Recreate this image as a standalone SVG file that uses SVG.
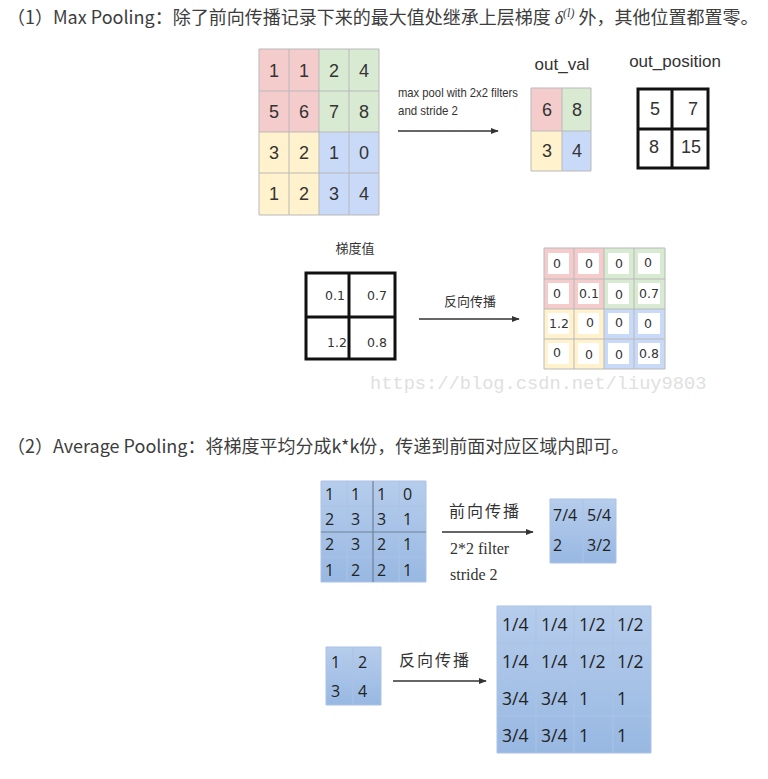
<svg xmlns="http://www.w3.org/2000/svg" width="768" height="779" viewBox="0 0 768 779">
<style>
.h{font-family:"Noto Sans CJK SC","Noto Sans",sans-serif;font-size:18px;fill:#3d3d3d}
.n1{font-family:"Liberation Sans",Arial,sans-serif;font-size:18px;fill:#333;text-anchor:middle}
.lbl{font-family:"Liberation Sans",Arial,sans-serif;font-size:17px;fill:#333;text-anchor:middle}
.sm{font-family:"Liberation Sans",Arial,sans-serif;font-size:13px;fill:#333}
.n2{font-family:"DejaVu Sans",Verdana,sans-serif;font-size:12.5px;fill:#333;text-anchor:middle}
.cj{font-family:"Noto Sans CJK SC",sans-serif;font-size:13px;fill:#333;text-anchor:middle}
.cj2{font-family:"Noto Sans CJK SC",serif;font-size:16px;fill:#333;letter-spacing:2px}
.av{font-family:"Open Sans","Liberation Sans",sans-serif;font-size:16px;fill:#222}
.av2{font-family:"Open Sans","Liberation Sans",sans-serif;font-size:17.5px;fill:#222}
.sf{font-family:"Liberation Serif","Times New Roman",serif;font-size:16px;fill:#333}
.g{stroke:#b9b9b9;stroke-width:1;fill:none}
.bl{stroke:#111;stroke-width:3;fill:none}
.ar{stroke:#333;stroke-width:1.3;fill:none;marker-end:url(#ah)}
.pk{fill:#f4cccc}.gr{fill:#d9ead3}.ye{fill:#fff2cc}.bu{fill:#c9daf8}
.wh{fill:#fff}
.bg{stroke:#aac3e6;stroke-width:1;fill:none}
</style>
<defs>
<marker id="ah" viewBox="0 0 10 10" refX="9" refY="5" markerWidth="6" markerHeight="6" orient="auto"><path d="M0,1 L10,5 L0,9 z" fill="#333"/></marker>
<linearGradient id="blu" x1="0" y1="0" x2="0" y2="1"><stop offset="0" stop-color="#b6cdec"/><stop offset="1" stop-color="#98b8e2"/></linearGradient>
</defs>
<rect width="768" height="779" fill="#fff"/>

<g id="heading1"><text class="h" x="7" y="24">（1）Max Pooling：除了前向传播记录下来的最大值处继承上层梯度 <tspan font-family="Liberation Serif,serif" font-style="italic">δ</tspan><tspan font-family="Liberation Serif,serif" font-style="italic" font-size="12" dy="-7">(l)</tspan><tspan dy="7"> 外，其他位置都置零。</tspan></text></g>

<g id="input-grid">
<rect class="pk" x="259" y="49" width="60" height="83"/>
<rect class="gr" x="319" y="49" width="60" height="83"/>
<rect class="ye" x="259" y="132" width="60" height="83"/>
<rect class="bu" x="319" y="132" width="60" height="83"/>
<path class="g" d="M259,49H379V215H259Z M289,49V215 M319,49V215 M349,49V215 M259,91H379 M259,132H379 M259,173H379"/>
<text class="n1" x="274" y="77">1</text><text class="n1" x="304" y="77">1</text><text class="n1" x="334" y="77">2</text><text class="n1" x="364" y="77">4</text>
<text class="n1" x="274" y="118">5</text><text class="n1" x="304" y="118">6</text><text class="n1" x="334" y="118">7</text><text class="n1" x="364" y="118">8</text>
<text class="n1" x="274" y="159">3</text><text class="n1" x="304" y="159">2</text><text class="n1" x="334" y="159">1</text><text class="n1" x="364" y="159">0</text>
<text class="n1" x="274" y="200">1</text><text class="n1" x="304" y="200">2</text><text class="n1" x="334" y="200">3</text><text class="n1" x="364" y="200">4</text>
</g>

<g id="out-val">
<text class="lbl" x="562" y="70">out_val</text>
<rect class="pk" x="531" y="88" width="31" height="43"/>
<rect class="gr" x="562" y="88" width="29" height="43"/>
<rect class="ye" x="531" y="131" width="31" height="40"/>
<rect class="bu" x="562" y="131" width="29" height="40"/>
<path class="g" d="M531,88H591V171H531Z M562,88V171 M531,131H591"/>
<text class="n1" x="547" y="116">6</text><text class="n1" x="577" y="116">8</text>
<text class="n1" x="547" y="157">3</text><text class="n1" x="577" y="157">4</text>
</g>

<g id="out-position">
<text class="lbl" x="675" y="67">out_position</text>
<path class="bl" d="M638,89H708V168H638Z M672,89V168 M638,129H708"/>
<text class="n1" x="655" y="115">5</text><text class="n1" x="693" y="115">7</text>
<text class="n1" x="654" y="153">8</text><text class="n1" x="691" y="153">15</text>
</g>

<g id="gradient">
<text class="cj" x="355" y="253">梯度值</text>
<path class="bl" d="M306,273H395V359H306Z M349,273V359 M306,317H395"/>
<text class="n2" x="335" y="300">0.1</text><text class="n2" x="377" y="300">0.7</text>
<text class="n2" x="337" y="347">1.2</text><text class="n2" x="377" y="347">0.8</text>
</g>

<g id="backprop-grid">
<rect class="pk" x="544" y="248" width="60" height="61"/>
<rect class="gr" x="604" y="248" width="61" height="61"/>
<rect class="ye" x="544" y="309" width="60" height="60"/>
<rect class="bu" x="604" y="309" width="61" height="60"/>
<g class="wh">
<rect x="548" y="253" width="21" height="21"/><rect x="578" y="253" width="21" height="21"/><rect x="608" y="253" width="21" height="21"/><rect x="638" y="253" width="22" height="21"/>
<rect x="548" y="283" width="21" height="21"/><rect x="578" y="283" width="21" height="21"/><rect x="608" y="283" width="21" height="21"/><rect x="638" y="283" width="22" height="21"/>
<rect x="548" y="313" width="21" height="21"/><rect x="578" y="313" width="21" height="21"/><rect x="608" y="313" width="21" height="21"/><rect x="638" y="313" width="22" height="21"/>
<rect x="548" y="343" width="21" height="21"/><rect x="578" y="343" width="21" height="21"/><rect x="608" y="343" width="21" height="21"/><rect x="638" y="343" width="22" height="21"/>
</g>
<path class="g" d="M544,248H665V369H544Z M574,248V369 M604,248V369 M634,248V369 M544,279H665 M544,309H665 M544,339H665"/>
<text class="n2" x="557" y="268">0</text><text class="n2" x="589" y="268">0</text><text class="n2" x="619" y="268">0</text><text class="n2" x="648" y="267">0</text>
<text class="n2" x="557" y="298">0</text><text class="n2" x="589" y="298">0.1</text><text class="n2" x="619" y="299">0</text><text class="n2" x="649" y="298">0.7</text>
<text class="n2" x="559" y="328">1.2</text><text class="n2" x="590" y="327">0</text><text class="n2" x="619" y="327">0</text><text class="n2" x="648" y="328">0</text>
<text class="n2" x="557" y="357">0</text><text class="n2" x="589" y="359">0</text><text class="n2" x="619" y="359">0</text><text class="n2" x="649" y="358">0.8</text>
</g>

<g id="watermark"><text x="370" y="389" font-family="Liberation Mono,monospace" font-size="18.7" fill="#e0e0e0">https://blog.csdn.net/liuy9803</text></g>

<g id="heading2"><text class="h" x="7" y="453">（2）Average Pooling：将梯度平均分成k*k份，传递到前面对应区域内即可。</text></g>

<g id="avg-input">
<rect x="321" y="481" width="105" height="101" fill="url(#blu)"/>
<path class="bg" d="M321,481H426V582H321Z M347,481V582 M399,481V582 M321,506H426 M321,557H426"/>
<path d="M373,481V582 M321,532H426" stroke="#6f8098" stroke-width="1.2"/>
<text class="av" x="325" y="500">1</text><text class="av" x="351" y="500">1</text><text class="av" x="377" y="500">1</text><text class="av" x="403" y="500">0</text>
<text class="av" x="325" y="525">2</text><text class="av" x="351" y="525">3</text><text class="av" x="377" y="525">3</text><text class="av" x="403" y="525">1</text>
<text class="av" x="325" y="550">2</text><text class="av" x="351" y="550">3</text><text class="av" x="377" y="550">2</text><text class="av" x="403" y="550">1</text>
<text class="av" x="325" y="576">1</text><text class="av" x="351" y="576">2</text><text class="av" x="377" y="576">2</text><text class="av" x="403" y="576">1</text>
</g>

<g id="avg-output">
<rect x="550" y="499" width="66" height="64" fill="url(#blu)"/>
<path class="bg" d="M550,499H616V563H550Z M583,499V563 M550,531H616"/>
<text class="av" x="553" y="521">7/4</text><text class="av" x="587" y="521">5/4</text>
<text class="av" x="553" y="551">2</text><text class="av" x="587" y="551">3/2</text>
</g>

<g id="avg-grad">
<rect x="326" y="647" width="55" height="58" fill="url(#blu)"/>
<path class="bg" d="M326,647H381V705H326Z M353,647V705 M326,676H381"/>
<text class="av" x="331" y="668">1</text><text class="av" x="358" y="668">2</text>
<text class="av" x="331" y="697">3</text><text class="av" x="358" y="697">4</text>
</g>

<g id="avg-backprop">
<rect x="497" y="606" width="154" height="147" fill="url(#blu)"/>
<path class="bg" d="M497,606H651V753H497Z M536,606V753 M574,606V753 M613,606V753 M497,643H651 M497,679H651 M497,716H651"/>
<text class="av2" x="502" y="631">1/4</text><text class="av2" x="541" y="631">1/4</text><text class="av2" x="579" y="631">1/2</text><text class="av2" x="617" y="631">1/2</text>
<text class="av2" x="502" y="668">1/4</text><text class="av2" x="541" y="668">1/4</text><text class="av2" x="579" y="668">1/2</text><text class="av2" x="617" y="668">1/2</text>
<text class="av2" x="502" y="705">3/4</text><text class="av2" x="541" y="705">3/4</text><text class="av2" x="579" y="705">1</text><text class="av2" x="617" y="705">1</text>
<text class="av2" x="502" y="742">3/4</text><text class="av2" x="541" y="742">3/4</text><text class="av2" x="579" y="742">1</text><text class="av2" x="617" y="742">1</text>
</g>

<g id="connectors">
<line class="ar" x1="398" y1="131" x2="498" y2="131"/>
<text class="sm" x="398" y="97" textLength="120" lengthAdjust="spacingAndGlyphs">max pool with 2x2 filters</text>
<text class="sm" x="398" y="115" textLength="60" lengthAdjust="spacingAndGlyphs">and stride 2</text>
<line class="ar" x1="419" y1="319" x2="519" y2="319"/>
<text class="cj" x="470" y="306">反向传播</text>
<line class="ar" x1="442" y1="532" x2="533" y2="532"/>
<text class="cj2" x="449" y="517">前向传播</text>
<text class="sf" x="450" y="554">2*2 filter</text>
<text class="sf" x="450" y="580">stride 2</text>
<line class="ar" x1="393" y1="681" x2="486" y2="681"/>
<text class="cj2" x="399" y="666">反向传播</text>
</g>
</svg>
